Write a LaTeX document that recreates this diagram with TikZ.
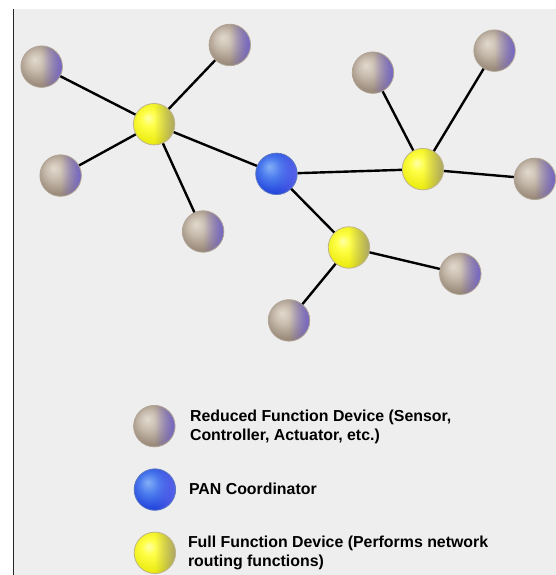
\documentclass[tikz,border=0pt]{standalone}
\usepackage{fontspec}
\setmainfont{Liberation Sans}
\usetikzlibrary{fadings}

% palette
\definecolor{panel}{HTML}{EEEEEE}
\definecolor{rfdhi}{HTML}{E2DACE}
\definecolor{rfdmid}{HTML}{C6BAAC}
\definecolor{rfdlow}{HTML}{9C8C7C}
\definecolor{rfddark}{HTML}{8A7A6A}
\definecolor{rfdrim}{HTML}{6A5CE0}
\definecolor{rfdline}{HTML}{B0A494}
\definecolor{ffdhi}{HTML}{FFFFA8}
\definecolor{ffdmid}{HTML}{FFFF48}
\definecolor{ffdlow}{HTML}{EEEE18}
\definecolor{ffddark}{HTML}{D4D400}
\definecolor{ffdrim}{HTML}{9A9282}
\definecolor{ffdline}{HTML}{BEB48C}
\definecolor{panhi}{HTML}{84AEF6}
\definecolor{panmid}{HTML}{4C7CEE}
\definecolor{panlow}{HTML}{2648DE}
\definecolor{pandark}{HTML}{1C36D0}
\definecolor{panrim}{HTML}{6A6AEE}
\definecolor{panline}{HTML}{5A78C0}

% sphere shadings, light source at the upper left
\pgfdeclareradialshading{rfdball}{\pgfpoint{-9bp}{9bp}}{color(0bp)=(rfdhi); color(12bp)=(rfdmid); color(26bp)=(rfdlow); color(40bp)=(rfddark); color(50bp)=(rfddark)}
\pgfdeclareradialshading{ffdball}{\pgfpoint{-8bp}{8bp}}{color(0bp)=(ffdhi); color(9bp)=(ffdmid); color(24bp)=(ffdlow); color(40bp)=(ffddark); color(50bp)=(ffddark)}
\pgfdeclareradialshading{panball}{\pgfpoint{-9bp}{9bp}}{color(0bp)=(panhi); color(12bp)=(panmid); color(26bp)=(panlow); color(40bp)=(pandark); color(50bp)=(pandark)}

% tinted rim on the right-hand side of each sphere
\tikzfading[name=rimright, left color=transparent!100, right color=transparent!22, middle color=transparent!100]

\tikzset{
  device/.style={circle, minimum size=41.5pt, inner sep=0pt, line width=0.8pt, shade},
  rfd/.style={device, shading=rfdball, draw=rfdline,
    path picture={\fill[rfdrim, path fading=rimright] (path picture bounding box.south west) rectangle (path picture bounding box.north east);}},
  ffd/.style={device, shading=ffdball, draw=ffdline,
    path picture={\fill[ffdrim, path fading=rimright] (path picture bounding box.south west) rectangle (path picture bounding box.north east);}},
  pan/.style={device, shading=panball, draw=panline,
    path picture={\fill[panrim, path fading=rimright] (path picture bounding box.south west) rectangle (path picture bounding box.north east);}},
  link/.style={line width=2.4pt, black},
  % anchored at the baseline of the last line
  legendtext/.style={anchor=base west, inner sep=0pt, align=left,
    font=\fontsize{15.9}{19}\selectfont\bfseries}
}

\begin{document}
\begin{tikzpicture}[x=1pt, y=-1pt]
  % page and panel
  \fill[white] (0,0) rectangle (556,575);
  \fill[panel] (13.5,9.5) rectangle (556,575);
  \draw[line width=1pt, black!85] (13.5,9.5) -- (13.5,575);
  \useasboundingbox (0,0) rectangle (556,575);

  % network devices
  \node[rfd] (g1) at (41.7,66.7) {};
  \node[rfd] (g2) at (230,45) {};
  \node[rfd] (g3) at (60.7,175.7) {};
  \node[rfd] (g4) at (203.3,231.7) {};
  \node[rfd] (g5) at (373.3,72.7) {};
  \node[rfd] (g6) at (495,50.7) {};
  \node[rfd] (g7) at (535.3,179) {};
  \node[rfd] (g8) at (460.7,274) {};
  \node[rfd] (g9) at (289.3,320.7) {};
  \node[ffd] (f1) at (154.3,124.3) {};
  \node[ffd] (f2) at (423.3,169.3) {};
  \node[ffd] (f3) at (349.3,247.7) {};
  \node[pan] (pc) at (276.7,174) {};

  % links
  \draw[link] (f1) -- (g1);
  \draw[link] (f1) -- (g2);
  \draw[link] (f1) -- (g3);
  \draw[link] (f1) -- (g4);
  \draw[link] (f1) -- (pc);
  \draw[link] (pc) -- (f2);
  \draw[link] (pc) -- (f3);
  \draw[link] (f2) -- (g5);
  \draw[link] (f2) -- (g6);
  \draw[link] (f2) -- (g7);
  \draw[link] (f3) -- (g8);
  \draw[link] (f3) -- (g9);

  % legend
  \node[rfd] (lg) at (154.5,426.5) {};
  \node[pan] (lp) at (155,490) {};
  \node[ffd] (lf) at (155,553.3) {};
  \node[legendtext] (tg) at (190,441) {Reduced Function Device (Sensor,\\Controller, Actuator, etc.)};
  \node[legendtext] (tp) at (189,495) {PAN Coordinator};
  \node[legendtext] (tf) at (188,567) {Full Function Device (Performs network\\routing functions)};
\end{tikzpicture}
\end{document}
